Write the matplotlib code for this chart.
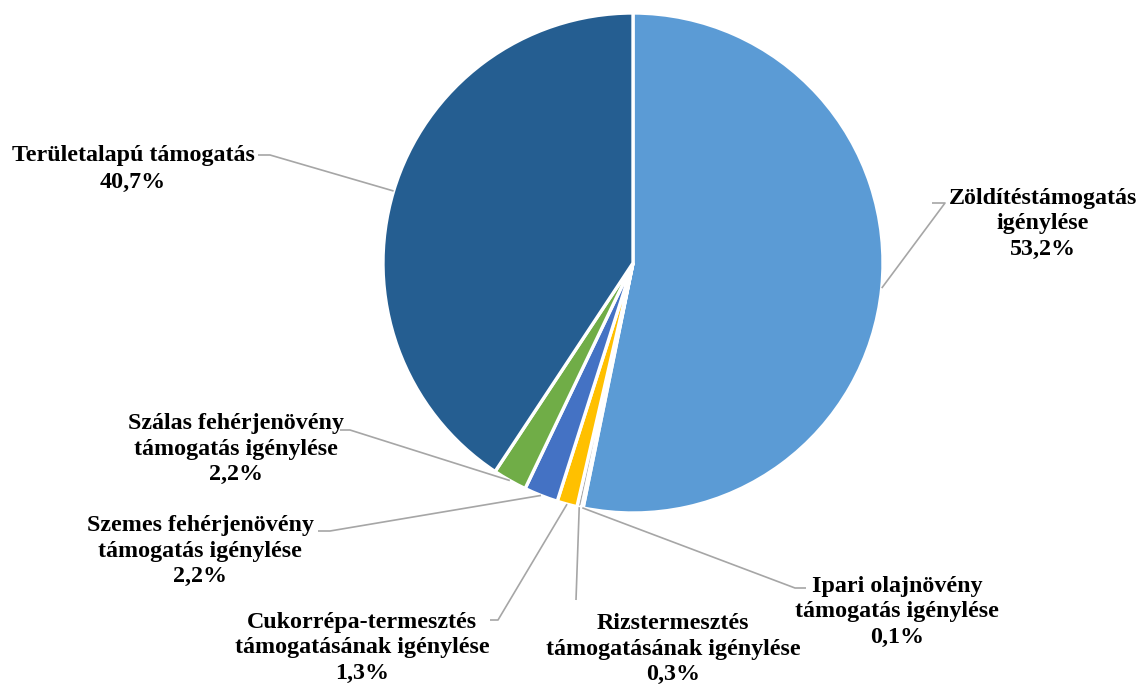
import numpy as np
import matplotlib
matplotlib.use("Agg")
import matplotlib.pyplot as plt

labels = ["Zöldítéstámogatás\nigénylése",
          "Ipari olajnövény\ntámogatás igénylése",
          "Rizstermesztés\ntámogatásának igénylése",
          "Cukorrépa-termesztés\ntámogatásának igénylése",
          "Szemes fehérjenövény\ntámogatás igénylése",
          "Szálas fehérjenövény\ntámogatás igénylése",
          "Területalapú támogatás"]
values = [53.2, 0.1, 0.3, 1.3, 2.2, 2.2, 40.7]
colors = ["#5B9BD5", "#ED7D31", "#A5A5A5", "#FFC000", "#4472C4", "#70AD47", "#255E91"]

W, H = 1138, 686
fig = plt.figure(figsize=(W / 100, H / 100), dpi=100)
ax = fig.add_axes([0, 0, 1, 1])
ax.set_xlim(0, W)
ax.set_ylim(0, H)
ax.set_aspect("equal")
ax.axis("off")

cx, cy, R = 633, H - 263, 250
wedges, _ = ax.pie(values, colors=colors, startangle=90, counterclock=False,
                   center=(cx, cy), radius=R,
                   wedgeprops=dict(edgecolor="white", linewidth=2.4))
ax.set_xlim(0, W)
ax.set_ylim(0, H)

# label layout: (text center x, text center y (px from top), elbow x, elbow y, horizontal end x, linespacing)
layout = [
    (1043, 224, 945, 203, 932, 1.27),
    (897, 612, 795, 588, 806, 1.27),
    (673, 649, 576, 600, 576, 1.27),
    (362, 648, 498, 620, 490, 1.27),
    (200, 551, 330, 531, 318, 1.27),
    (236, 449, 350, 430, 340, 1.27),
    (133, 169, 270, 155, 258, 1.40),
]

font = dict(family=["Liberation Serif", "DejaVu Serif"], weight="bold", size=17.3)
lc = "#A6A6A6"
for w, lab, v, (tx, ty, ex, ey, hx, ls) in zip(wedges, labels, values, layout):
    ang = np.deg2rad((w.theta1 + w.theta2) / 2)
    ax_x = cx + R * np.cos(ang)
    ax_y = cy + R * np.sin(ang)
    ax.plot([ax_x, ex, hx], [ax_y, H - ey, H - ey], color=lc, lw=1.2,
            solid_capstyle="butt", zorder=1)
    txt = f"{lab}\n{v:.1f}%".replace(".", ",")
    ax.text(tx, H - ty, txt, ha="center", va="center", linespacing=ls, **font)

fig.savefig("out.png", dpi=100)
